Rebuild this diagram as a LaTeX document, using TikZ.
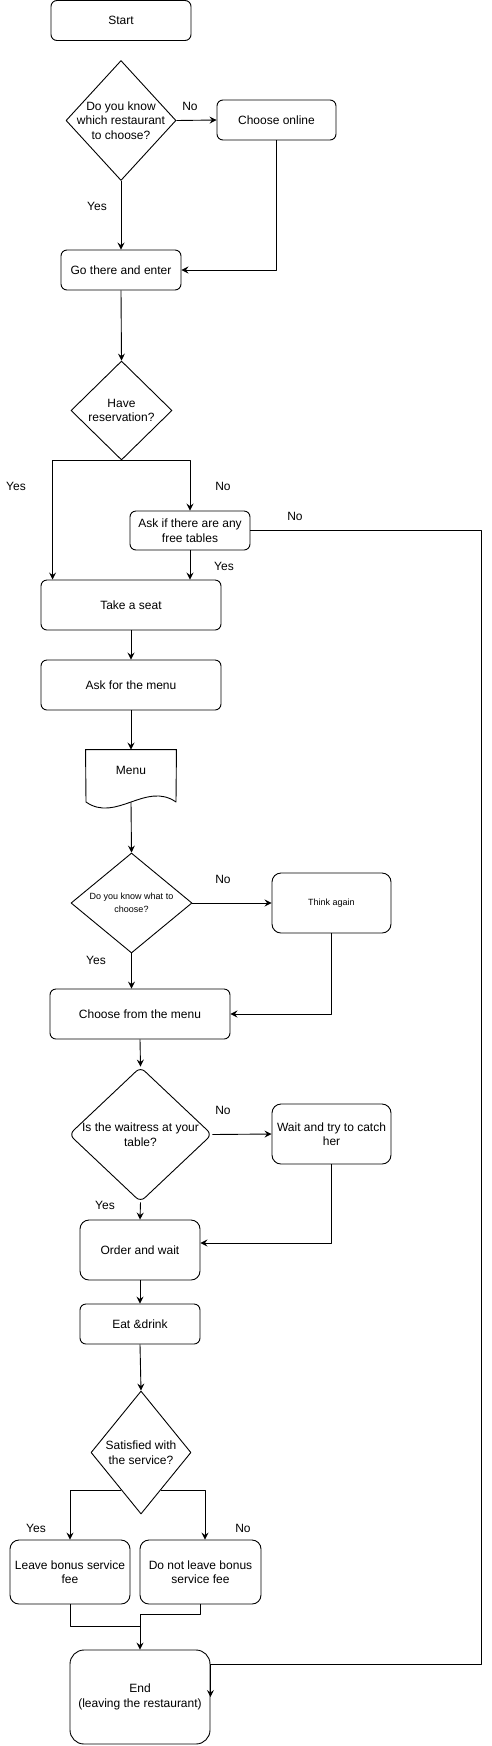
\documentclass[tikz,border=0pt]{standalone}
\usepackage{fontspec}
\setmainfont{Liberation Sans}
\usetikzlibrary{shapes.geometric,arrows.meta}
\begin{document}
\begin{tikzpicture}[x=1pt,y=-1pt,>={Stealth[length=7pt,width=7pt,inset=2.5pt]},line width=0.9pt,line join=round,
	font=\fontsize{12}{14.5}\selectfont,
	box/.style={draw,rounded corners=6pt,align=center,inner sep=0pt},
	dec/.style={draw,diamond,align=center,inner sep=-12pt},
	small/.style={font=\fontsize{9}{13}\selectfont}]
	\useasboundingbox (0,0) rectangle (491,1746);
	% boxes and decisions
	\node[box,minimum width=140pt,minimum height=40pt] (start) at (121,20.5) {Start};
	\node[dec,minimum width=110pt,minimum height=120pt] (know) at (121,120.5) {Do you know\\which restaurant\\to choose?};
	\node[box,minimum width=119pt,minimum height=40pt] (online) at (276.5,120) {Choose online};
	\node[box,minimum width=120pt,minimum height=40pt] (go) at (121,270) {Go there and enter};
	\node[dec,minimum width=101pt,minimum height=99pt] (resv) at (121.5,410.5) {Have\\reservation?};
	\node[box,minimum width=120pt,minimum height=39pt] (ask) at (190,530.5) {Ask if there are any\\free tables};
	\node[box,minimum width=180pt,minimum height=50pt] (seat) at (131,605) {Take a seat};
	\node[box,minimum width=180pt,minimum height=50pt] (askmenu) at (131,685) {Ask for the menu};
	\node[minimum width=90pt,minimum height=40pt,inner sep=0pt] (menu) at (131,770) {Menu};
	\draw (menu.north west) -- (menu.north east) -- (176,802) .. controls (146,781) and (116,823) .. (86,802) -- cycle;
	\coordinate (menubot) at (131,802);
	\node[dec,small,minimum width=121pt,minimum height=100pt] (what) at (131.5,903) {Do you know what to\\choose?};
	\node[box,small,rounded corners=9pt,minimum width=119pt,minimum height=60pt] (think) at (331.5,903) {Think again};
	\node[box,minimum width=180pt,minimum height=50pt] (choose) at (140,1014) {Choose from the menu};
	\node[dec,rounded corners=6pt,minimum width=143pt,minimum height=135pt] (waitress) at (140.5,1134.5) {Is the waitress at your\\table?};
	\node[box,rounded corners=9pt,minimum width=119pt,minimum height=60pt] (catch) at (331.5,1134) {Wait and try to catch\\her};
	\node[box,rounded corners=9pt,minimum width=120pt,minimum height=60pt] (order) at (140,1250) {Order and wait};
	\node[box,minimum width=120pt,minimum height=40pt] (eat) at (140,1324) {Eat \&drink};
	\node[dec,minimum width=100pt,minimum height=123pt] (sat) at (141,1452.5) {Satisfied with\\the service?};
	\node[box,rounded corners=9pt,minimum width=120pt,minimum height=64pt] (bonus) at (70,1572) {Leave bonus service\\fee};
	\node[box,rounded corners=9pt,minimum width=121pt,minimum height=64pt] (nobonus) at (200.5,1572) {Do not leave bonus\\service fee};
	\node[box,rounded corners=14pt,minimum width=140pt,minimum height=94pt] (endn) at (140,1697) {End\\(leaving the restaurant)};
	\coordinate (far) at (481,1664);
	% connectors
	\draw[->] (know.east) -- (online.west);
	\draw[->] (know.south) -- (go.north);
	\draw[->] (online.south) |- (go.east);
	\draw[->] (go.south) -- (resv.north);
	\draw[->] (resv.south) -| ([xshift=12pt]seat.north west);
	\draw[->] (resv.south) -| (ask.north);
	\draw[->] (ask.south) -- (ask.south |- seat.north);
	\draw[->] (ask.east) -| (far) -- (far -| endn.east) -- (endn.east);
	\draw[->] (seat.south) -- (askmenu.north);
	\draw[->] (askmenu.south) -- (menu.north);
	\draw[->] (menubot) -- (what.north);
	\draw[->] (what.east) -- (think.west);
	\draw[->] (what.south) -- (what.south |- choose.north);
	\draw[->] (think.south) |- (choose.east);
	\draw[->] (choose.south) -- (waitress.north);
	\draw[->] (waitress.east) -- (catch.west);
	\draw[->] (waitress.south) -- (order.north);
	\draw[->] (catch.south) |- ([yshift=7pt]order.east);
	\draw[->] (order.south) -- (eat.north);
	\draw[->] (eat.south) -- (sat.north);
	\draw[->] (sat.242) -| (bonus.north);
	\draw[->] (sat.298) -| ([xshift=4.5pt]nobonus.north);
	\draw (bonus.south) |- ([yshift=23pt]endn.north);
	\draw[->] (nobonus.south) |- ([yshift=35pt]endn.north) -- (endn.north);
	% branch labels
	\foreach \x/\y/\lbl [count=\i] in {190/106/No,97/206/Yes,16/486/Yes,223/486/No,295/516/No,224/566/Yes,223/879/No,96/960/Yes,223/1110/No,105/1205/Yes,36/1528/Yes,243/1528/No}
	\node (lbl\i) at (\x,\y) {\lbl};
\end{tikzpicture}
\end{document}
